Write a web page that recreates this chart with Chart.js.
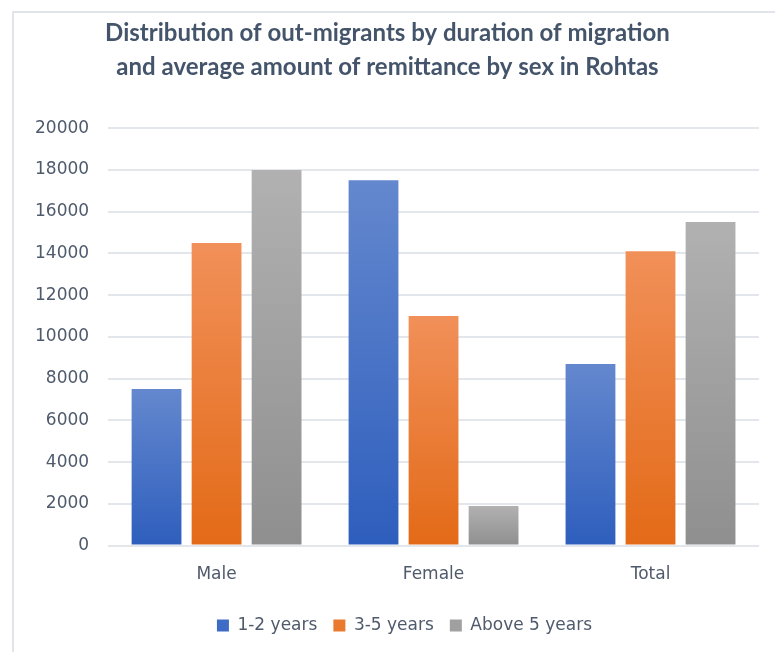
<!DOCTYPE html>
<html>
<head>
<meta charset="utf-8">
<script src="https://cdn.jsdelivr.net/npm/chart.js@4"></script>
<style>
  html, body { margin: 0; padding: 0; background: #fff; }
  #wrap { position: relative; width: 775px; height: 652px; overflow: hidden; }
  #frame { position: absolute; left: 12px; top: 11px; width: 800px; height: 700px;
           border-left: 2px solid #e1e4e9; border-top: 2px solid #e1e4e9; }
  canvas { position: absolute; left: 0; top: 0; }
</style>
</head>
<body>
<div id="wrap">
  <div id="frame"></div>
  <canvas id="chart" width="775" height="652"></canvas>
</div>
<script>
// data
const categories = ['Male', 'Female', 'Total'];
const seriesNames = ['1-2 years', '3-5 years', 'Above 5 years'];
const years1to2 = [7500, 17500, 8700];
const years3to5 = [14500, 11000, 14100];
const above5 = [18000, 1900, 15500];
const titleLines = [
  'Distribution of out-migrants by duration of migration',
  'and average amount of remittance by sex in Rohtas'
];

// top / bottom colours of the vertical bar gradients
const fills = [
  { top: '#6488ce', bottom: '#2e5ebd', mid: '#3e6bc6' },
  { top: '#f19059', bottom: '#e36a17', mid: '#ea7a2e' },
  { top: '#b1b1b1', bottom: '#8f8f8f', mid: '#a0a0a0' }
];

const FONT = "'DejaVu Sans', sans-serif";
const TEXT = '#4f5a6c';

function barFill(f) {
  return (ctx) => {
    if (ctx.type !== 'data') return f.mid;
    const y = ctx.chart.scales.y;
    if (!y) return f.mid;
    const y0 = y.getPixelForValue(ctx.parsed.y);
    const y1 = y.getPixelForValue(0);
    if (!isFinite(y0) || !isFinite(y1) || y0 === y1) return f.mid;
    const g = ctx.chart.ctx.createLinearGradient(0, y0, 0, y1);
    g.addColorStop(0, f.top);
    g.addColorStop(1, f.bottom);
    return g;
  };
}

// the legend in the original sits a little right of the canvas centre
const legendNudge = {
  id: 'legendNudge',
  afterLayout(chart) {
    const l = chart.legend;
    if (!l) return;
    l.left += 17; l.right += 17;
    l.top += 5; l.bottom += 5;
  }
};

const values = [years1to2, years3to5, above5];

new Chart(document.getElementById('chart'), {
  type: 'bar',
  data: {
    labels: categories,
    datasets: values.map((v, i) => ({
      label: seriesNames[i],
      data: v,
      backgroundColor: barFill(fills[i]),
      borderWidth: 0,
      categoryPercentage: 0.83,
      barPercentage: 0.83
    }))
  },
  plugins: [legendNudge],
  options: {
    responsive: false,
    animation: false,
    layout: { padding: { left: 16, right: 16, top: 0, bottom: 13 } },
    plugins: {
      title: {
        display: true,
        text: titleLines,
        color: '#44546a',
        font: { family: 'Lato, sans-serif', size: 24, weight: 'bold', lineHeight: 1.42 },
        padding: { top: 16, bottom: 44 }
      },
      legend: {
        position: 'bottom',
        labels: {
          color: TEXT,
          font: { family: FONT, size: 17 },
          boxWidth: 12,
          boxHeight: 12,
          padding: 16,
          generateLabels: (chart) => chart.data.datasets.map((d, i) => ({
            text: d.label,
            fillStyle: fills[i].mid,
            strokeStyle: fills[i].mid,
            lineWidth: 0,
            fontColor: TEXT,
            datasetIndex: i,
            hidden: false
          }))
        }
      },
      tooltip: { enabled: false }
    },
    scales: {
      x: {
        grid: { display: false },
        border: { display: false },
        ticks: { color: TEXT, font: { family: FONT, size: 17 }, padding: 11 }
      },
      y: {
        min: 0,
        max: 20000,
        ticks: {
          stepSize: 2000,
          color: TEXT,
          font: { family: FONT, size: 17 },
          padding: 19,
          callback: (v) => String(v)
        },
        grid: { color: '#e3e6eb', lineWidth: 2, drawTicks: false },
        border: { display: false }
      }
    }
  }
});
</script>
</body>
</html>
